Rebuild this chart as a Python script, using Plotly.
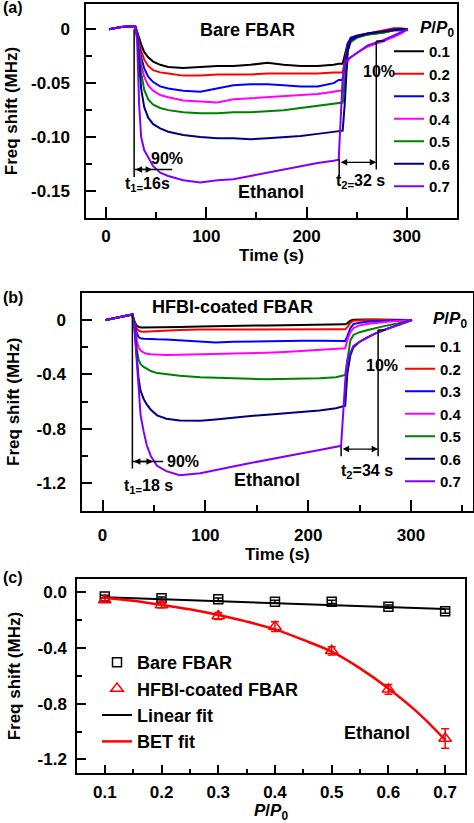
import plotly.graph_objects as go

W, H = 474, 823

# ---------------- Data ----------------
pp_labels = ["0.1", "0.2", "0.3", "0.4", "0.5", "0.6", "0.7"]
colors = ["#000000", "#ff0000", "#0000ff", "#ff00ff", "#008000", "#000080", "#8000ff"]

# Panel (a): Bare FBAR, time (s) vs frequency shift (MHz)
time_a = [3, 15, 29, 31, 33, 35, 38, 42, 47, 54, 62, 77, 94, 111, 127, 144, 161, 177, 194, 211, 227, 232,
          236, 238, 241, 244, 250, 261, 277, 287, 294, 301]
bare_01 = [0, 0.002, 0.003, -0.002, -0.008, -0.014, -0.021, -0.026, -0.030, -0.033, -0.035, -0.036, -0.035, -0.034,
           -0.034, -0.033, -0.031, -0.033, -0.034, -0.034, -0.033, -0.032, -0.032, -0.025, -0.013, -0.009, -0.007,
           -0.005, -0.003, -0.001, -0.001, 0]
bare_02 = [0, 0.002, 0.003, -0.003, -0.012, -0.020, -0.028, -0.034, -0.038, -0.040, -0.041, -0.043, -0.043, -0.042,
           -0.042, -0.042, -0.041, -0.041, -0.041, -0.041, -0.040, -0.040, -0.040, -0.030, -0.014, -0.008, -0.006,
           -0.004, -0.001, 0.001, 0.001, 0]
bare_03 = [0, 0.002, 0.003, -0.003, -0.014, -0.026, -0.036, -0.044, -0.049, -0.053, -0.055, -0.057, -0.058, -0.055,
           -0.052, -0.051, -0.051, -0.052, -0.053, -0.053, -0.050, -0.047, -0.047, -0.035, -0.015, -0.008, -0.006,
           -0.004, -0.002, 0, 0, 0]
bare_04 = [0, 0.002, 0.003, -0.004, -0.018, -0.032, -0.044, -0.052, -0.057, -0.061, -0.063, -0.066, -0.067, -0.068,
           -0.065, -0.064, -0.063, -0.062, -0.061, -0.060, -0.058, -0.057, -0.057, -0.045, -0.029, -0.026, -0.022,
           -0.016, -0.011, -0.007, -0.004, 0]
bare_05 = [0, 0.002, 0.003, -0.005, -0.022, -0.040, -0.056, -0.065, -0.070, -0.073, -0.075, -0.077, -0.078, -0.078,
           -0.077, -0.077, -0.076, -0.075, -0.073, -0.071, -0.069, -0.068, -0.068, -0.050, -0.020, -0.012, -0.008,
           -0.005, -0.003, -0.001, -0.001, 0]
bare_06 = [0, 0.002, 0.003, -0.006, -0.030, -0.055, -0.072, -0.082, -0.088, -0.092, -0.095, -0.098, -0.100, -0.101,
           -0.101, -0.102, -0.101, -0.100, -0.099, -0.097, -0.095, -0.094, -0.094, -0.070, -0.020, -0.010, -0.007,
           -0.004, -0.002, -0.001, 0, 0]
bare_07 = [0, 0.002, 0.003, -0.010, -0.070, -0.100, -0.112, -0.119, -0.127, -0.133, -0.136, -0.140, -0.142, -0.140,
           -0.139, -0.136, -0.133, -0.130, -0.127, -0.124, -0.122, -0.121, -0.045, -0.032, -0.028, -0.026, -0.022,
           -0.015, -0.010, -0.006, -0.003, 0]
bare_series = [bare_01, bare_02, bare_03, bare_04, bare_05, bare_06, bare_07]

# Panel (b): HFBI-coated FBAR
time_b = [3, 15, 29, 31, 33, 35, 37, 40, 43, 47, 53, 62, 75, 95, 110, 127, 144, 160, 177, 194, 211, 227, 232,
          236, 238, 241, 244, 250, 257, 265, 277, 287, 294, 301]
hfbi_01 = [0, 0.02, 0.04, -0.01, -0.04, -0.05, -0.055, -0.056, -0.056, -0.056, -0.056, -0.055, -0.052, -0.048,
           -0.045, -0.042, -0.040, -0.040, -0.038, -0.037, -0.036, -0.035, -0.034, -0.032, -0.025, -0.005, 0.002,
           0.004, 0.004, 0.003, 0.002, 0.001, 0, 0]
hfbi_02 = [0, 0.02, 0.04, -0.015, -0.06, -0.078, -0.085, -0.086, -0.085, -0.083, -0.080, -0.076, -0.073, -0.071,
           -0.070, -0.069, -0.068, -0.068, -0.068, -0.068, -0.068, -0.068, -0.068, -0.068, -0.055, -0.020, -0.005,
           -0.002, -0.001, 0, 0, 0, 0, 0]
hfbi_03 = [0, 0.02, 0.04, -0.02, -0.09, -0.125, -0.135, -0.138, -0.140, -0.141, -0.142, -0.143, -0.148, -0.158,
           -0.166, -0.160, -0.157, -0.155, -0.153, -0.152, -0.152, -0.153, -0.154, -0.154, -0.12, -0.06, -0.03,
           -0.02, -0.014, -0.010, -0.006, -0.003, -0.001, 0]
hfbi_04 = [0, 0.02, 0.04, -0.03, -0.14, -0.20, -0.225, -0.240, -0.248, -0.252, -0.255, -0.257, -0.256, -0.253,
           -0.250, -0.248, -0.245, -0.240, -0.235, -0.228, -0.222, -0.215, -0.210, -0.208, -0.15, -0.090, -0.060,
           -0.040, -0.030, -0.022, -0.014, -0.008, -0.004, 0]
hfbi_05 = [0, 0.02, 0.04, -0.04, -0.20, -0.29, -0.325, -0.345, -0.36, -0.375, -0.39, -0.40, -0.41, -0.42, -0.425,
           -0.428, -0.432, -0.435, -0.433, -0.430, -0.427, -0.420, -0.410, -0.403, -0.30, -0.15, -0.11, -0.09,
           -0.075, -0.060, -0.040, -0.025, -0.012, 0]
hfbi_06 = [0, 0.02, 0.04, -0.05, -0.24, -0.43, -0.52, -0.58, -0.62, -0.66, -0.70, -0.725, -0.738, -0.740, -0.730,
           -0.715, -0.705, -0.695, -0.685, -0.675, -0.665, -0.648, -0.640, -0.630, -0.40, -0.26, -0.20, -0.16,
           -0.13, -0.10, -0.065, -0.04, -0.022, 0]
hfbi_07 = [0, 0.02, 0.04, -0.06, -0.27, -0.52, -0.70, -0.82, -0.92, -1.00, -1.07, -1.11, -1.14, -1.125, -1.10,
           -1.075, -1.05, -1.026, -1.00, -0.978, -0.955, -0.935, -0.924, -0.45, -0.30, -0.24, -0.19, -0.16, -0.13,
           -0.10, -0.065, -0.04, -0.02, 0]
hfbi_series = [hfbi_01, hfbi_02, hfbi_03, hfbi_04, hfbi_05, hfbi_06, hfbi_07]

# Panel (c): frequency shift vs relative pressure
pp = [0.1, 0.2, 0.3, 0.4, 0.5, 0.6, 0.7]
bare_shift = [-0.03, -0.043, -0.05, -0.067, -0.068, -0.103, -0.135]
bare_err = [0.01, 0.01, 0.01, 0.01, 0.012, 0.012, 0.015]
hfbi_shift = [-0.055, -0.09, -0.17, -0.247, -0.42, -0.697, -1.05]
hfbi_err = [0.015, 0.02, 0.025, 0.035, 0.03, 0.035, 0.07]
linear_fit_x = [0.1, 0.7]
linear_fit_y = [-0.035, -0.12]
bet_fit_x = [0.1, 0.15, 0.2, 0.25, 0.3, 0.35, 0.4, 0.45, 0.5, 0.55, 0.6, 0.65, 0.7]
bet_fit_y = [-0.038, -0.06, -0.09, -0.122, -0.163, -0.21, -0.266, -0.342, -0.426, -0.546, -0.69, -0.857, -1.06]


# ---------------- Layout helpers ----------------
def px(x):
    return x / W


def py(y):
    return 1 - y / H


FONT = "Liberation Sans, Arial, sans-serif"

fig = go.Figure()

for lab, col, ys in zip(pp_labels, colors, bare_series):
    fig.add_trace(go.Scatter(x=time_a, y=ys, mode="lines", name=lab, line=dict(color=col, width=2),
                             xaxis="x", yaxis="y", legend="legend"))
for lab, col, ys in zip(pp_labels, colors, hfbi_series):
    fig.add_trace(go.Scatter(x=time_b, y=ys, mode="lines", name=lab, line=dict(color=col, width=2),
                             xaxis="x2", yaxis="y2", legend="legend2"))

fig.add_trace(go.Scatter(x=pp, y=bare_shift, mode="markers", name="Bare FBAR",
                         marker=dict(symbol="square-open", size=9, color="black", line=dict(width=1.5)),
                         error_y=dict(type="data", array=bare_err, color="black", thickness=1.5, width=4),
                         xaxis="x3", yaxis="y3", legend="legend3"))
fig.add_trace(go.Scatter(x=pp, y=hfbi_shift, mode="markers", name="HFBI-coated FBAR",
                         marker=dict(symbol="triangle-up-open", size=11, color="red", line=dict(width=1.5)),
                         error_y=dict(type="data", array=hfbi_err, color="red", thickness=1.5, width=4),
                         xaxis="x3", yaxis="y3", legend="legend3"))
fig.add_trace(go.Scatter(x=linear_fit_x, y=linear_fit_y, mode="lines", name="Linear fit",
                         line=dict(color="black", width=2), xaxis="x3", yaxis="y3", legend="legend3"))
fig.add_trace(go.Scatter(x=bet_fit_x, y=bet_fit_y, mode="lines", name="BET fit",
                         line=dict(color="red", width=2.5, shape="spline"), xaxis="x3", yaxis="y3",
                         legend="legend3"))

axis_common = dict(showline=True, linecolor="black", linewidth=1.5, mirror=True, showgrid=False,
                   zeroline=False, ticks="inside", tickcolor="black", tickwidth=1.5, automargin=False,
                   tickfont=dict(size=17, family=FONT, color="black", weight="bold"))

title_font = dict(size=17, family=FONT, color="black", weight="bold")
legend_font = dict(size=15, family=FONT, color="black", weight="bold")

fig.update_layout(
    width=W, height=H, margin=dict(l=0, r=0, t=0, b=0, pad=0), autosize=False,
    paper_bgcolor="white", plot_bgcolor="white",
    font=dict(family=FONT, size=16, color="black", weight="bold"),
    xaxis=dict(axis_common, domain=[px(86), px(457)], range=[-20, 350], anchor="y",
               tickmode="array", tickvals=[0, 100, 200, 300], ticktext=["0", "100", "200", "300"], ticklen=11,
               minor=dict(ticks="inside", tickvals=[50, 150, 250, 350], ticklen=6, tickcolor="black", tickwidth=1.5),
               title=dict(text="Time (s)", font=title_font, standoff=2), ticklabelstandoff=2),
    yaxis=dict(axis_common, domain=[py(218), py(4)], range=[-0.175, 0.0234], anchor="x",
               tickmode="array", tickvals=[0, -0.05, -0.10, -0.15], ticktext=["0", "-0.05", "-0.10", "-0.15"],
               ticklen=10,
               minor=dict(ticks="inside", tickvals=[-0.025, -0.075, -0.125], ticklen=6, tickcolor="black",
                          tickwidth=1.5),
               title=dict(text="Freq shift (MHz)", font=title_font, standoff=9), ticklabelstandoff=11),
    xaxis2=dict(axis_common, domain=[px(82), px(472.7)], range=[-20, 360], anchor="y2",
                tickmode="array", tickvals=[0, 100, 200, 300], ticktext=["0", "100", "200", "300"], ticklen=11,
                minor=dict(ticks="inside", tickvals=[50, 150, 250, 350], ticklen=6, tickcolor="black",
                           tickwidth=1.5),
                title=dict(text="Time (s)", font=title_font, standoff=0), ticklabelstandoff=8),
    yaxis2=dict(axis_common, domain=[py(510.7), py(292.7)], range=[-1.4, 0.2], anchor="x2",
                tickmode="array", tickvals=[0, -0.4, -0.8, -1.2], ticktext=["0", "-0.4", "-0.8", "-1.2"],
                ticklen=10,
                minor=dict(ticks="inside", tickvals=[-0.2, -0.6, -1.0], ticklen=6, tickcolor="black",
                           tickwidth=1.5),
                title=dict(text="Freq shift (MHz)", font=title_font, standoff=13), ticklabelstandoff=11),
    xaxis3=dict(axis_common, domain=[px(77), px(465)], range=[0.051, 0.735], anchor="y3",
                tickmode="array", tickvals=pp, ticktext=["0.1", "0.2", "0.3", "0.4", "0.5", "0.6", "0.7"],
                ticklen=9,
                minor=dict(ticks="inside", tickvals=[0.15, 0.25, 0.35, 0.45, 0.55, 0.65], ticklen=5,
                           tickcolor="black", tickwidth=1.5),
                title=dict(text="<i>P</i>/<i>P</i><sub>0</sub>", font=title_font, standoff=15),
                ticklabelstandoff=3),
    yaxis3=dict(axis_common, domain=[py(773.3), py(579)], range=[-1.3, 0.096], anchor="x3",
                tickmode="array", tickvals=[0, -0.4, -0.8, -1.2], ticktext=["0.0", "-0.4", "-0.8", "-1.2"],
                ticklen=9,
                minor=dict(ticks="inside", tickvals=[-0.2, -0.6, -1.0], ticklen=5, tickcolor="black",
                           tickwidth=1.5),
                title=dict(text="Freq shift (MHz)", font=title_font, standoff=13), ticklabelstandoff=5),
    legend=dict(x=px(389), y=py(35), xanchor="left", yanchor="top", bgcolor="rgba(0,0,0,0)",
                font=legend_font),
    legend2=dict(x=px(400), y=py(330), xanchor="left", yanchor="top", bgcolor="rgba(0,0,0,0)",
                 font=legend_font),
    legend3=dict(x=px(97), y=py(644), xanchor="left", yanchor="top", bgcolor="rgba(0,0,0,0)",
                 font=dict(size=18, family=FONT, color="black", weight="bold")),
    showlegend=True,
)

# ---------------- Annotations and guide lines ----------------
shapes = []
annos = []


def vline(xr, yr, x, y0, y1):
    shapes.append(dict(type="line", xref=xr, yref=yr, x0=x, x1=x, y0=y0, y1=y1,
                       line=dict(color="black", width=1.5)))


def hline(xr, yr, x0, x1, y):
    shapes.append(dict(type="line", xref=xr, yref=yr, x0=x0, x1=x1, y0=y, y1=y,
                       line=dict(color="black", width=1.5)))


def darrow(xr, yr, x0, x1, y):
    annos.append(dict(xref=xr, yref=yr, x=x1, y=y, ax=x0, ay=y, axref=xr, ayref=yr, text="",
                      showarrow=True, arrowhead=2, arrowside="end+start", arrowsize=1, arrowwidth=1.3,
                      arrowcolor="black", standoff=0, startstandoff=0))


def label(xr, yr, x, y, text, size=16):
    annos.append(dict(xref=xr, yref=yr, x=x, y=y, text=text, showarrow=False,
                      font=dict(size=size, family=FONT, color="black", weight="bold")))


# Panel (a)
vline("x", "y", 28, 0.0, -0.137)
hline("x", "y", 28, 66, -0.130)
darrow("x", "y", 28, 46, -0.130)
label("x", "y", 61, -0.1195, "90%")
label("x", "y", 41, -0.144, "t<sub>1=</sub>16s")
vline("x", "y", 232.5, -0.120, -0.138)
vline("x", "y", 269.5, -0.011, -0.130)
hline("x", "y", 269.5, 278, -0.011)
darrow("x", "y", 232.5, 269.5, -0.1234)
label("x", "y", 254, -0.141, "t<sub>2=</sub>32 s")
label("x", "y", 272, -0.039, "10%")
label("x", "y", 141, -0.001, "Bare FBAR", 18)
label("x", "y", 164, -0.151, "Ethanol", 18)

# Panel (b)
vline("x2", "y2", 29, 0.04, -1.09)
hline("x2", "y2", 29, 59, -1.039)
darrow("x2", "y2", 29, 49, -1.039)
label("x2", "y2", 78, -1.04, "90%")
label("x2", "y2", 44.5, -1.22, "t<sub>1=</sub>18 s")
vline("x2", "y2", 232, -0.93, -1.0)
vline("x2", "y2", 268, -0.073, -1.0)
hline("x2", "y2", 268, 275, -0.073)
darrow("x2", "y2", 232, 268, -0.948)
label("x2", "y2", 257, -1.112, "t<sub>2</sub>=34 s")
label("x2", "y2", 272, -0.335, "10%")
label("x2", "y2", 126, 0.098, "HFBI-coated FBAR", 18)
label("x2", "y2", 160, -1.178, "Ethanol", 18)

# Panel (c)
label("x3", "y3", 0.579, -1.008, "Ethanol", 18)

# Legend headers for panels (a) and (b)
for xc, yc in [(437, 29), (450, 320)]:
    annos.append(dict(xref="paper", yref="paper", x=px(xc), y=py(yc), xanchor="center", yanchor="middle",
                      text="<i>P</i>/<i>P</i><sub>0</sub>", showarrow=False,
                      font=dict(size=17, family=FONT, color="black", weight="bold")))

# Panel letters
for txt, yp in [("(a)", 8), ("(b)", 297), ("(c)", 577)]:
    annos.append(dict(xref="paper", yref="paper", x=px(1), y=py(yp), xanchor="left", yanchor="middle",
                      text=txt, showarrow=False,
                      font=dict(size=16, family=FONT, color="black", weight="bold")))

fig.update_layout(shapes=shapes, annotations=annos)

fig.write_html("out.html", config={"displayModeBar": False},
               post_script="document.body.style.margin='0';document.body.style.overflow='hidden';")
